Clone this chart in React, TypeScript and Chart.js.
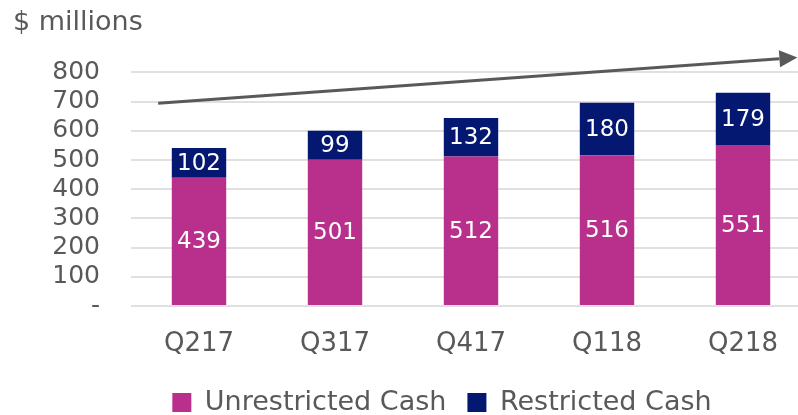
import React, { useEffect, useRef } from 'react';
import { Chart, registerables } from 'chart.js';

Chart.register(...registerables);

// ---- data ----
const categories = ['Q217', 'Q317', 'Q417', 'Q118', 'Q218'];
const unrestrictedCash = [439, 501, 512, 516, 551];
const restrictedCash = [102, 99, 132, 180, 179];
const seriesNames = ['Unrestricted Cash', 'Restricted Cash'];
const unitLabel = '$ millions';
const yMax = 800;
const yStep = 100;
// trend arrow endpoints: [category index, value]
const trendFrom = [-0.3, 694];
const trendTo = [4.4, 851];

// ---- style ----
const FONT = "'DejaVu Sans', sans-serif";
const TEXT = '#595959';
const PINK = '#B8308B';
const NAVY = '#041872';

const valueLabels = {
  id: 'valueLabels',
  afterDatasetsDraw(chart: any) {
    const ctx = chart.ctx;
    ctx.save();
    ctx.fillStyle = '#ffffff';
    ctx.font = `23px ${FONT}`;
    ctx.textAlign = 'center';
    ctx.textBaseline = 'middle';
    chart.data.datasets.forEach((ds: any, i: number) => {
      const meta = chart.getDatasetMeta(i);
      meta.data.forEach((el: any, j: number) => {
        const { x, y, base } = el.getProps(['x', 'y', 'base'], true);
        ctx.fillText(String(ds.data[j]), x, (y + base) / 2 + 1);
      });
    });
    ctx.restore();
  },
};

const trendArrow = {
  id: 'trendArrow',
  afterDatasetsDraw(chart: any) {
    const xs = chart.scales.x;
    const ys = chart.scales.y;
    const x1 = xs.getPixelForValue(trendFrom[0]);
    const y1 = ys.getPixelForValue(trendFrom[1]);
    const x2 = xs.getPixelForValue(trendTo[0]);
    const y2 = ys.getPixelForValue(trendTo[1]);
    const ang = Math.atan2(y2 - y1, x2 - x1);
    const head = 18;
    const half = 8.5;
    const bx = x2 - head * Math.cos(ang);
    const by = y2 - head * Math.sin(ang);
    const ctx = chart.ctx;
    ctx.save();
    ctx.strokeStyle = TEXT;
    ctx.fillStyle = TEXT;
    ctx.lineWidth = 3;
    ctx.beginPath();
    ctx.moveTo(x1, y1);
    ctx.lineTo(bx, by);
    ctx.stroke();
    ctx.beginPath();
    ctx.moveTo(x2, y2);
    ctx.lineTo(bx - half * Math.sin(ang), by + half * Math.cos(ang));
    ctx.lineTo(bx + half * Math.sin(ang), by - half * Math.cos(ang));
    ctx.closePath();
    ctx.fill();
    ctx.restore();
  },
};

export default function App() {
  const ref = useRef<HTMLCanvasElement | null>(null);

  useEffect(() => {
    if (!ref.current) return;
    Chart.defaults.font.family = FONT;
    const chart = new Chart(ref.current, {
      type: 'bar',
      data: {
        labels: categories,
        datasets: [
          {
            label: seriesNames[0],
            data: unrestrictedCash,
            backgroundColor: PINK,
            borderWidth: 0,
            yAxisID: 'y',
            barPercentage: 0.4,
            categoryPercentage: 1,
          },
          {
            label: seriesNames[1],
            data: restrictedCash,
            backgroundColor: NAVY,
            borderWidth: 0,
            yAxisID: 'y',
            barPercentage: 0.4,
            categoryPercentage: 1,
          },
        ],
      },
      options: {
        responsive: false,
        animation: false,
        devicePixelRatio: 1,
        layout: { padding: { left: 13, right: 13, top: 0, bottom: -11 } },
        scales: {
          x: {
            stacked: true,
            grid: { display: false },
            border: { display: false },
            ticks: { color: TEXT, font: { size: 26 }, padding: 15 },
            afterFit: (s: any) => {
              s.height = 62;
            },
          },
          y: {
            stacked: true,
            min: 0,
            max: yMax,
            ticks: {
              stepSize: yStep,
              autoSkip: false,
              color: TEXT,
              font: { size: 25 },
              padding: 31,
              callback: (v: any) => (v === 0 ? '-' : String(v)),
            },
            grid: { color: '#E0E0E0', lineWidth: 2, drawTicks: false },
            border: { display: false },
            afterFit: (s: any) => {
              s.width = 118;
            },
          },
          yR: {
            position: 'right',
            display: true,
            grid: { display: false },
            ticks: { display: false },
            border: { display: false },
            afterFit: (s: any) => {
              s.width = 60;
            },
          },
        },
        plugins: {
          title: {
            display: true,
            text: unitLabel,
            align: 'start',
            color: TEXT,
            font: { size: 27, weight: 'normal' },
            padding: { top: 7, bottom: 33 },
          },
          legend: {
            position: 'bottom',
            labels: {
              boxWidth: 19,
              boxHeight: 19,
              color: TEXT,
              font: { size: 27 },
              padding: 21,
            },
          },
          tooltip: { enabled: false },
        },
      },
      plugins: [valueLabels, trendArrow],
    } as any);
    return () => chart.destroy();
  }, []);

  return (
    <div
      style={{
        position: 'absolute',
        left: 0,
        top: 0,
        width: 798,
        height: 415,
        overflow: 'hidden',
        background: '#ffffff',
      }}
    >
      <canvas ref={ref} width={884} height={415} style={{ display: 'block', width: 884, height: 415 }} />
    </div>
  );
}
